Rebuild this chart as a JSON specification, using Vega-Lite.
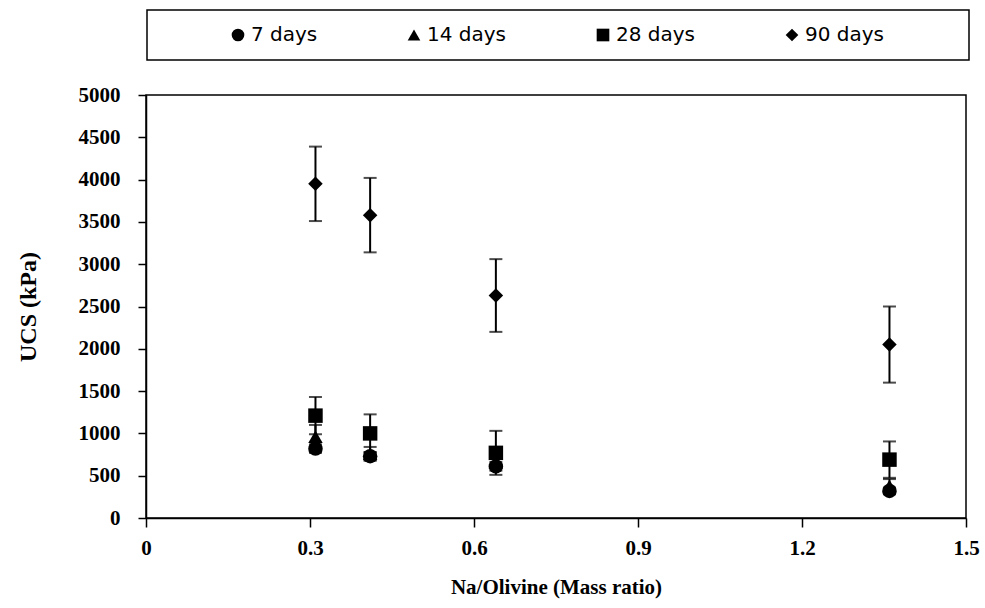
{
  "$schema": "https://vega.github.io/schema/vega-lite/v6.json",
  "width": 820,
  "height": 423,
  "autosize": {"type": "none"},
  "padding": {"left": 146, "top": 95, "right": 19, "bottom": 90},
  "background": "white",
  "config": {
    "view": {"stroke": "black", "strokeWidth": 1.5},
    "legend": {"strokeWidth": 1.5}
  },
  "data": {
    "values": [
      {"ratio": 0.31, "days": "7 days", "ucs": 820, "err": 50},
      {"ratio": 0.41, "days": "7 days", "ucs": 730, "err": 50},
      {"ratio": 0.64, "days": "7 days", "ucs": 610, "err": 50},
      {"ratio": 1.36, "days": "7 days", "ucs": 320, "err": 40},
      {"ratio": 0.31, "days": "14 days", "ucs": 960, "err": 140},
      {"ratio": 0.41, "days": "14 days", "ucs": 760, "err": 80},
      {"ratio": 0.64, "days": "14 days", "ucs": 660, "err": 60},
      {"ratio": 1.36, "days": "14 days", "ucs": 380, "err": 80},
      {"ratio": 0.31, "days": "28 days", "ucs": 1210, "err": 220},
      {"ratio": 0.41, "days": "28 days", "ucs": 1000, "err": 225},
      {"ratio": 0.64, "days": "28 days", "ucs": 770, "err": 260},
      {"ratio": 1.36, "days": "28 days", "ucs": 690, "err": 215},
      {"ratio": 0.31, "days": "90 days", "ucs": 3950, "err": 440},
      {"ratio": 0.41, "days": "90 days", "ucs": 3580, "err": 440},
      {"ratio": 0.64, "days": "90 days", "ucs": 2630, "err": 430},
      {"ratio": 1.36, "days": "90 days", "ucs": 2050, "err": 450}
    ]
  },
  "encoding": {
    "x": {
      "field": "ratio",
      "type": "quantitative",
      "scale": {"domain": [0, 1.5], "nice": false, "zero": false},
      "axis": {
        "title": "Na/Olivine (Mass ratio)",
        "values": [0, 0.3, 0.6, 0.9, 1.2, 1.5],
        "format": "~g",
        "grid": false,
        "domainColor": "black",
        "domainWidth": 1.5,
        "tickColor": "black",
        "tickWidth": 1.5,
        "tickSize": 9,
        "labelFont": "Liberation Serif",
        "labelFontWeight": "bold",
        "labelFontSize": 21,
        "labelColor": "black",
        "labelPadding": 10,
        "labelFlush": false,
        "titleFont": "Liberation Serif",
        "titleFontWeight": "bold",
        "titleFontSize": 21,
        "titleColor": "black",
        "titlePadding": 18
      }
    },
    "y": {
      "field": "ucs",
      "type": "quantitative",
      "scale": {"domain": [0, 5000], "nice": false},
      "axis": {
        "title": "UCS (kPa)",
        "values": [0, 500, 1000, 1500, 2000, 2500, 3000, 3500, 4000, 4500, 5000],
        "format": "d",
        "grid": false,
        "domainColor": "black",
        "domainWidth": 1.5,
        "tickColor": "black",
        "tickWidth": 1.5,
        "tickSize": 8,
        "labelFont": "Liberation Serif",
        "labelFontWeight": "bold",
        "labelFontSize": 21,
        "labelColor": "black",
        "labelPadding": 18,
        "labelFlush": false,
        "titleFont": "Liberation Serif",
        "titleFontWeight": "bold",
        "titleFontSize": 24,
        "titleColor": "black",
        "titlePadding": 38
      }
    }
  },
  "layer": [
    {
      "mark": {
        "type": "errorbar",
        "color": "black",
        "thickness": 2,
        "ticks": {"size": 13, "thickness": 2, "color": "black"}
      },
      "encoding": {"yError": {"field": "err"}}
    },
    {
      "mark": {"type": "point", "filled": true, "color": "black", "opacity": 1, "size": 210},
      "encoding": {
        "shape": {
          "field": "days",
          "type": "nominal",
          "scale": {
            "domain": ["7 days", "14 days", "28 days", "90 days"],
            "range": ["circle", "triangle-up", "square", "diamond"]
          },
          "legend": {
            "orient": "none",
            "legendX": 1,
            "legendY": -85,
            "direction": "horizontal",
            "columns": 4,
            "gridAlign": "each",
            "title": "\u00a0",
            "titleOrient": "left",
            "titleFontSize": 1,
            "titlePadding": 66,
            "padding": 15,
            "strokeColor": "black",
            "fillColor": "white",
            "symbolSize": 160,
            "symbolFillColor": "black",
            "symbolStrokeWidth": 0,
            "symbolOpacity": 1,
            "labelFont": "DejaVu Sans",
            "labelFontSize": 20,
            "labelColor": "black",
            "labelOffset": 3,
            "labelLimit": 300,
            "columnPadding": 86,
            "labelExpr": "datum.label == '90 days' ? datum.label + '\u00a0\u00a0\u00a0\u00a0\u00a0\u00a0\u00a0\u00a0\u00a0\u00a0\u00a0\u200b' : datum.label"
          }
        }
      }
    }
  ]
}
